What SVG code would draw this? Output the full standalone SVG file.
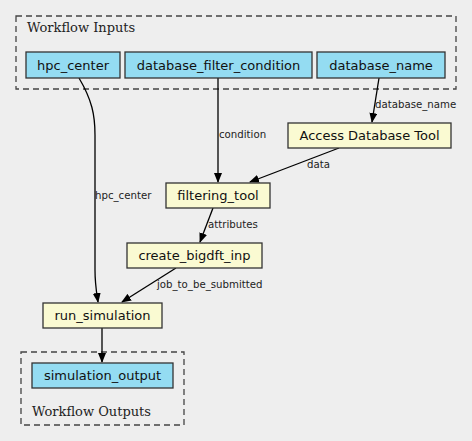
<svg xmlns="http://www.w3.org/2000/svg" width="472" height="441" viewBox="0 0 472 441">
<defs>
<marker id="ah" markerWidth="10" markerHeight="8" refX="9" refY="4" orient="auto" markerUnits="userSpaceOnUse">
<path d="M0,0 L10,4 L0,8 Z" fill="#000"/>
</marker>
<style>
.cl{fill:none;stroke:#444;stroke-width:1.3;stroke-dasharray:6,4}
.clt{font-family:"DejaVu Serif",serif;font-size:13px;fill:#222}
.in rect{fill:#94dcf2;stroke:#333;stroke-width:1.3}
.tl rect{fill:#fafad2;stroke:#333;stroke-width:1.3}
.n text{font-family:"DejaVu Sans",sans-serif;font-size:13px;fill:#111;text-anchor:middle}
.e path{fill:none;stroke:#000;stroke-width:1.3;marker-end:url(#ah)}
.e text{font-family:"DejaVu Sans",sans-serif;font-size:10.2px;fill:#222}
</style>
</defs>
<rect width="472" height="441" fill="#eeeeee"/>
<g id="cluster_inputs">
<rect class="cl" x="16" y="16" width="440" height="73"/>
<text class="clt" x="27" y="32">Workflow Inputs</text>
</g>
<g id="cluster_outputs">
<rect class="cl" x="21" y="352" width="163" height="73"/>
<text class="clt" x="32" y="416">Workflow Outputs</text>
</g>
<g id="connectors" class="e">
<path d="M79,78 C92,100 95,115 95,135 L95,270 C95,285 97,295 98,302"/>
<text x="95" y="199">hpc_center</text>
<path d="M218,78 L218,182"/>
<text x="219" y="138">condition</text>
<path d="M379,78 L372,122"/>
<text x="375" y="108">database_name</text>
<path d="M339,148 L250,182"/>
<text x="307" y="168">data</text>
<path d="M213,208 L200,242"/>
<text x="208" y="228">attributes</text>
<path d="M176,268 L122,302"/>
<text x="157" y="288">job_to_be_submitted</text>
<path d="M102,328 L102,362"/>
</g>
<g id="hpc_center" class="n in"><rect x="26" y="52" width="94" height="26"/><text x="73" y="69.5">hpc_center</text></g>
<g id="database_filter_condition" class="n in"><rect x="125" y="52" width="187" height="26"/><text x="218.5" y="69.5">database_filter_condition</text></g>
<g id="database_name" class="n in"><rect x="317" y="52" width="128" height="26"/><text x="381" y="69.5">database_name</text></g>
<g id="access_database_tool" class="n tl"><rect x="288" y="123" width="163" height="25"/><text x="369.5" y="140">Access Database Tool</text></g>
<g id="filtering_tool" class="n tl"><rect x="166" y="183" width="104" height="25"/><text x="218" y="200">filtering_tool</text></g>
<g id="create_bigdft_inp" class="n tl"><rect x="127" y="243" width="135" height="25"/><text x="194.5" y="260">create_bigdft_inp</text></g>
<g id="run_simulation" class="n tl"><rect x="43" y="303" width="119" height="25"/><text x="102.5" y="320">run_simulation</text></g>
<g id="simulation_output" class="n in"><rect x="32" y="363" width="141" height="25"/><text x="102.5" y="380">simulation_output</text></g>
</svg>
